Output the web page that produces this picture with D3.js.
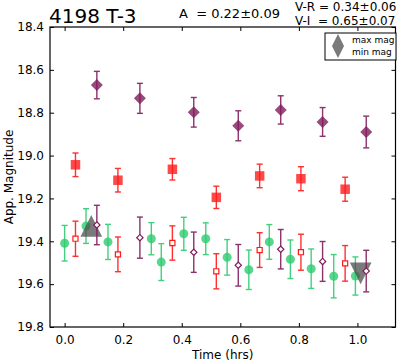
<!DOCTYPE html>
<html>
<head>
<meta charset="utf-8">
<script src="https://cdn.jsdelivr.net/npm/d3@7"></script>
<style>
  body { margin: 0; background: #fff; }
  svg { display: block; font-family: "DejaVu Sans", sans-serif; }
</style>
</head>
<body>
<svg id="chart" width="400" height="362"></svg>
<script>
// values
var tI = [0.110, 0.257, 0.441, 0.593, 0.738, 0.881, 1.030];
var magIShift = [18.671, 18.733, 18.798, 18.861, 18.787, 18.843, 18.890];
var errIShift = [0.064, 0.070, 0.069, 0.070, 0.066, 0.067, 0.074];
var magI = [19.324, 19.383, 19.451, 19.512, 19.437, 19.494, 19.539];
var errI = [0.092, 0.096, 0.094, 0.097, 0.092, 0.093, 0.097];

var tR = [0.037, 0.182, 0.368, 0.518, 0.666, 0.807, 0.958];
var magRShift = [19.043, 19.115, 19.064, 19.195, 19.095, 19.108, 19.157];
var errRShift = [0.055, 0.055, 0.050, 0.052, 0.055, 0.056, 0.056];
var magR = [19.388, 19.461, 19.408, 19.540, 19.441, 19.451, 19.503];
var errR = [0.082, 0.081, 0.080, 0.082, 0.081, 0.084, 0.083];

var tV = [0.0, 0.073, 0.148, 0.296, 0.330, 0.407, 0.482, 0.555, 0.629, 0.699, 0.771, 0.842, 0.919, 0.993];
var magV = [19.409, 19.329, 19.403, 19.388, 19.497, 19.365, 19.388, 19.475, 19.533, 19.403, 19.484, 19.528, 19.563, 19.562];
var errV = [0.083, 0.081, 0.082, 0.075, 0.086, 0.077, 0.074, 0.083, 0.092, 0.081, 0.090, 0.092, 0.101, 0.089];

var extremeT = [0.091, 1.011];
var extremeMag = [19.328, 19.550];
var extremeLabels = ["max mag", "min mag"];

var xTicks = [0.0, 0.2, 0.4, 0.6, 0.8, 1.0];
var yTicks = [18.4, 18.6, 18.8, 19.0, 19.2, 19.4, 19.6, 19.8];

var svg = d3.select("#chart");
var L = 50, R = 395.5, T = 27, B = 327;

var x = d3.scaleLinear().domain([-0.05, 1.13]).range([L, R]);
var y = d3.scaleLinear().domain([18.4, 19.8]).range([T, B]);

var purple = "#7f1d5c", red = "#ff1a1a", green = "#2ecc71", grey = "#4d4d4d";

// ticks inward on all four sides
svg.append("g").attr("transform", "translate(0," + B + ")")
    .call(d3.axisBottom(x).tickValues(xTicks).tickSizeInner(-4).tickSizeOuter(0).tickPadding(8).tickFormat(d3.format(".1f")));
svg.append("g").attr("transform", "translate(0," + T + ")")
    .call(d3.axisTop(x).tickValues(xTicks).tickSizeInner(-4).tickSizeOuter(0).tickFormat(""));
svg.append("g").attr("transform", "translate(" + L + ",0)")
    .call(d3.axisLeft(y).tickValues(yTicks).tickSizeInner(-4).tickSizeOuter(0).tickPadding(6).tickFormat(d3.format(".1f")));
svg.append("g").attr("transform", "translate(" + R + ",0)")
    .call(d3.axisRight(y).tickValues(yTicks).tickSizeInner(-4).tickSizeOuter(0).tickFormat(""));
svg.selectAll(".domain").remove();
svg.selectAll(".tick text").attr("font-size", 12).attr("fill", "#000").attr("font-family", "DejaVu Sans");
svg.selectAll(".tick line").attr("stroke", "#000");

svg.append("rect").attr("x", L).attr("y", T).attr("width", R - L).attr("height", B - T)
    .attr("fill", "none").attr("stroke", "#000").attr("stroke-width", 1.2);

function zip(ts, ms, es) {
    return ts.map(function(t, i) { return {t: t, m: ms[i], e: es[i]}; });
}

function errorbars(data, color, op) {
    var g = svg.append("g").attr("stroke", color).attr("stroke-width", 1.4).attr("opacity", op);
    data.forEach(function(d) {
        var cx = x(d.t);
        g.append("line").attr("x1", cx).attr("x2", cx).attr("y1", y(d.m - d.e)).attr("y2", y(d.m + d.e));
        g.append("line").attr("x1", cx - 3).attr("x2", cx + 3).attr("y1", y(d.m - d.e)).attr("y2", y(d.m - d.e));
        g.append("line").attr("x1", cx - 3).attr("x2", cx + 3).attr("y1", y(d.m + d.e)).attr("y2", y(d.m + d.e));
    });
}

function markers(data, type, size, rot, color, filled) {
    svg.append("g").selectAll("path").data(data).enter().append("path")
        .attr("d", d3.symbol().type(type).size(size))
        .attr("transform", function(d) { return "translate(" + x(d.t) + "," + y(d.m) + ") rotate(" + rot + ")"; })
        .attr("fill", filled ? color : "#fff")
        .attr("fill-opacity", filled ? 0.8 : 1)
        .attr("stroke", filled ? "none" : color)
        .attr("stroke-width", 1.2);
}

var vData = zip(tV, magV, errV);
var rData = zip(tR, magR, errR);
var rsData = zip(tR, magRShift, errRShift);
var iData = zip(tI, magI, errI);
var isData = zip(tI, magIShift, errIShift);

errorbars(vData, green, 0.9);
markers(vData, d3.symbolCircle, 64, 0, green, true);

// big grey triangles for the extremes
var tri = d3.line();
function triPath(up, w) {
    var h = w / 2;
    return up ? tri([[0, -h], [h, h], [-h, h]]) + "Z" : tri([[0, h], [h, -h], [-h, -h]]) + "Z";
}
extremeT.forEach(function(t, i) {
    svg.append("path").attr("d", triPath(i === 0, 21.7))
        .attr("transform", "translate(" + x(t) + "," + y(extremeMag[i]) + ")")
        .attr("fill", grey).attr("fill-opacity", 0.75);
});

errorbars(rsData, red, 0.9);
markers(rsData, d3.symbolSquare, 90, 0, red, true);
errorbars(rData, red, 0.9);
markers(rData, d3.symbolSquare, 26, 0, red, false);

errorbars(isData, purple, 0.9);
markers(isData, d3.symbolSquare, 72, 45, purple, true);
errorbars(iData, purple, 0.9);
markers(iData, d3.symbolSquare, 20, 45, purple, false);

// axis labels
svg.append("text").attr("x", (L + R) / 2).attr("y", 359).attr("text-anchor", "middle")
    .attr("font-size", 12).text("Time (hrs)");
svg.append("text").attr("transform", "translate(13," + (T + B) / 2 + ") rotate(-90)")
    .attr("text-anchor", "middle").attr("font-size", 12).text("App. Magnitude");

// titles
svg.append("text").attr("x", 49).attr("y", 23).attr("font-size", 20).text("4198 T-3");
svg.append("text").attr("x", 179).attr("y", 18).attr("font-size", 13).attr("xml:space", "preserve").text("A  = 0.22\u00b10.09");
svg.append("text").attr("x", 295).attr("y", 11.3).attr("font-size", 12).text("V-R = 0.34\u00b10.06");
svg.append("text").attr("x", 295).attr("y", 25.4).attr("font-size", 12).attr("xml:space", "preserve").text("V-I  = 0.65\u00b10.07");

// legend
var lg = svg.append("g");
lg.append("rect").attr("x", 325).attr("y", 33).attr("width", 71).attr("height", 27)
    .attr("fill", "#fff").attr("stroke", "#000").attr("stroke-width", 1);
extremeLabels.forEach(function(lab, i) {
    lg.append("path").attr("d", triPath(i === 0, 12))
        .attr("transform", "translate(338," + (40 + i * 12) + ")")
        .attr("fill", grey).attr("fill-opacity", 0.75);
    lg.append("text").attr("x", 352).attr("y", 43 + i * 12).attr("font-size", 9).text(lab);
});
</script>
</body>
</html>
